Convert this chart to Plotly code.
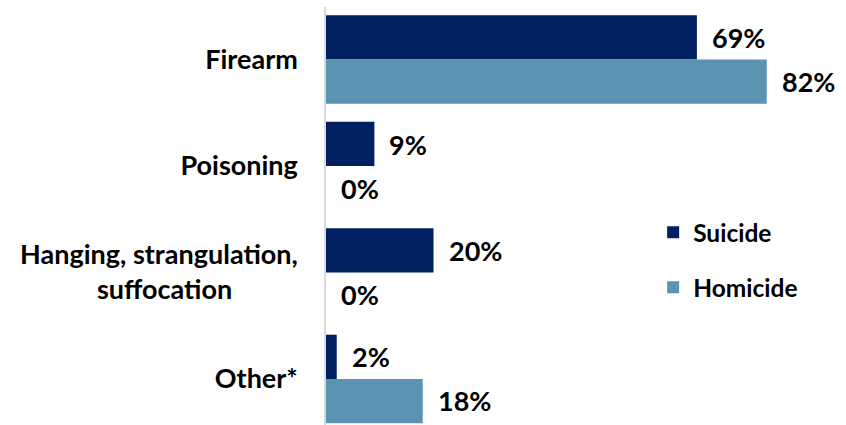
import plotly.graph_objects as go

categories = ["Firearm", "Poisoning", "Hanging, strangulation,<br>suffocation" + "\u00a0" * 10, "Other*"]
suicide = [69, 9, 20, 2]
homicide = [82, 0, 0, 18]
series_names = ["Suicide", "Homicide"]
colors = ["#002060", "#5B93B3"]

FONT = "Lato"
fig = go.Figure()
for name, vals, col in zip(series_names, [suicide, homicide], colors):
    fig.add_trace(go.Bar(
        y=categories, x=vals, name=name, orientation="h",
        marker=dict(color=col, line=dict(width=0)),
        legendgroup=name, hoverinfo="skip",
    ))

annotations = []
for vals, shift in [(suicide, 22), (homicide, -22)]:
    for c, v in zip(categories, vals):
        annotations.append(dict(
            x=v, y=c, xref="x", yref="y", text=f"{v}%", showarrow=False,
            xanchor="left", yanchor="middle", xshift=13, yshift=shift,
            font=dict(family=FONT, size=27, color="#000000", weight="bold"),
        ))

fig.update_layout(
    width=846, height=425,
    margin=dict(l=326, r=4, t=7, b=0),
    paper_bgcolor="white", plot_bgcolor="white",
    barmode="group", bargap=0.168, bargroupgap=0,
    font=dict(family=FONT, size=27, color="#000000", weight="bold"),
    annotations=annotations,
    showlegend=True,
    legend=dict(
        x=0.634, y=0.395, xanchor="left", yanchor="middle",
        traceorder="grouped", tracegroupgap=20,
        font=dict(family=FONT, size=24.5, color="#000000", weight="bold"),
        bgcolor="rgba(0,0,0,0)",
    ),
    xaxis=dict(range=[0, 96], showticklabels=False, showgrid=False,
               zeroline=False, showline=False),
    yaxis=dict(range=[3.432, -0.493], showgrid=False, zeroline=False,
               showline=True, linecolor="#D9D9D9", linewidth=1.5,
               ticks="", ticklabelstandoff=21,
               tickfont=dict(family=FONT, size=27, color="#000000", weight="bold")),
)

fig.write_html("out.html", config={"displayModeBar": False},
               post_script="document.body.style.margin='0';")
